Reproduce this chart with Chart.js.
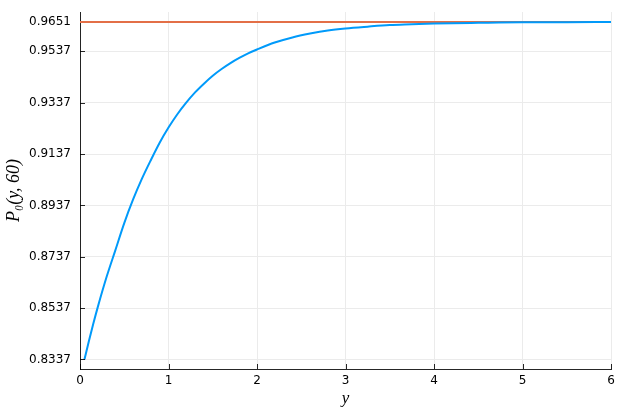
<!DOCTYPE html>
<html>
<head>
<meta charset="utf-8">
<script src="https://cdn.jsdelivr.net/npm/chart.js@4/dist/chart.umd.min.js"></script>
<style>
  html, body { margin: 0; padding: 0; background: #ffffff; }
  #wrap { width: 623px; height: 415px; position: relative; }
</style>
</head>
<body>
<div id="wrap"><canvas id="c" width="623" height="415"></canvas></div>
<script>
// ---- data ----
const yValues = [0.05, 0.1, 0.15, 0.2, 0.3, 0.4, 0.5, 0.6, 0.7, 0.8, 0.9, 1.0, 1.1, 1.2, 1.3, 1.4, 1.5, 1.6, 1.7, 1.8, 1.9, 2.0, 2.2, 2.4, 2.6, 2.8, 3.0, 3.25, 3.5, 3.75, 4.0, 4.5, 5.0, 5.5, 6.0];
const p0Values = [0.8337, 0.8408, 0.8476, 0.8540, 0.8658, 0.8763, 0.8868, 0.8960, 0.9041, 0.9113, 0.9181, 0.9240, 0.9292, 0.9337, 0.9377, 0.9411, 0.9442, 0.9468, 0.9491, 0.9511, 0.9529, 0.9544, 0.9571, 0.9591, 0.9606, 0.9618, 0.9626, 0.9633, 0.9639, 0.9642, 0.9645, 0.9648, 0.9650, 0.9650, 0.9651];
const limitX = [0, 6];
const limitValue = 0.9651;
const xTicks = [0, 1, 2, 3, 4, 5, 6];
const yTicks = [0.8337, 0.8537, 0.8737, 0.8937, 0.9137, 0.9337, 0.9537, 0.9651];
const xTitle = 'y';
const yTitle = 'P₀(y, 60)';

const curveData = yValues.map((x, i) => ({ x: x, y: p0Values[i] }));
const limitData = limitX.map(x => ({ x: x, y: limitValue }));

const innerTicks = {
  id: 'innerTicks',
  afterDatasetsDraw(chart) {
    const ctx = chart.ctx;
    const xs = chart.scales.x, ys = chart.scales.y;
    const a = chart.chartArea;
    ctx.save();
    ctx.strokeStyle = 'rgba(0,0,0,0.85)';
    ctx.lineWidth = 1;
    ctx.beginPath();
    yTicks.forEach(v => {
      if (v === limitValue) return;
      const py = Math.round(ys.getPixelForValue(v)) + 0.5;
      ctx.moveTo(a.left, py); ctx.lineTo(a.left + 5, py);
    });
    xTicks.forEach(v => {
      const px = Math.round(xs.getPixelForValue(v)) + 0.5;
      ctx.moveTo(px, a.bottom); ctx.lineTo(px, a.bottom - 5);
    });
    ctx.stroke();
    ctx.restore();
  }
};

new Chart(document.getElementById('c'), {
  type: 'line',
  data: {
    datasets: [
      {
        data: curveData,
        borderColor: '#009AFA',
        borderWidth: 2,
        pointRadius: 0,
        fill: false,
        cubicInterpolationMode: 'monotone'
      },
      {
        data: limitData,
        borderColor: '#E36F47',
        borderWidth: 2,
        pointRadius: 0,
        fill: false
      }
    ]
  },
  options: {
    responsive: false,
    animation: false,
    layout: { padding: { top: 12, right: 12, bottom: 0, left: 0 } },
    plugins: { legend: { display: false }, tooltip: { enabled: false } },
    scales: {
      x: {
        type: 'linear',
        min: 0,
        max: 6,
        afterBuildTicks(s) { s.ticks = xTicks.map(v => ({ value: v })); },
        afterFit(s) { s.height = 46; s.paddingLeft = 0; s.paddingRight = 0; },
        grid: { color: '#ebebeb', lineWidth: 1, drawTicks: false },
        border: { display: true, color: 'rgba(0,0,0,0.85)', width: 1 },
        ticks: { color: '#000', font: { family: 'DejaVu Sans', size: 12 }, padding: 5, maxRotation: 0,
                 callback: v => String(v) },
        title: { display: true, text: xTitle, color: '#000',
                 font: { family: 'Liberation Serif', size: 17, style: 'italic' },
                 padding: { top: 0, bottom: 6 } }
      },
      y: {
        type: 'linear',
        min: 0.8300,
        max: 0.9690,
        afterBuildTicks(s) { s.ticks = yTicks.map(v => ({ value: v })); },
        afterFit(s) { s.width = 80; s.paddingTop = 0; s.paddingBottom = 0; },
        grid: { color: '#ebebeb', lineWidth: 1, drawTicks: false },
        border: { display: true, color: 'rgba(0,0,0,0.85)', width: 1 },
        ticks: { color: '#000', font: { family: 'DejaVu Sans', size: 12 }, padding: 9,
                 callback: v => Number(v).toFixed(4) },
        title: { display: true, text: yTitle, color: '#000',
                 font: { family: 'Liberation Serif', size: 18, style: 'italic' },
                 padding: { top: 3, bottom: 0 } }
      }
    }
  },
  plugins: [innerTicks]
});
</script>
</body>
</html>
